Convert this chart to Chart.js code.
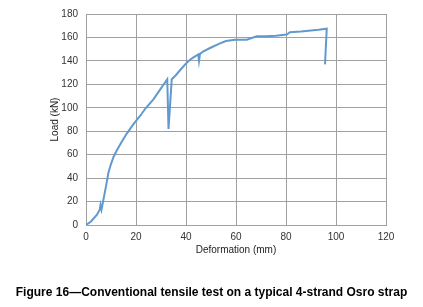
<!DOCTYPE html>
<html>
<head>
<meta charset="utf-8">
<script src="https://cdn.jsdelivr.net/npm/chart.js@4"></script>
<style>
  html, body { margin: 0; padding: 0; background: #fff; }
  #wrap { width: 423px; height: 307px; position: relative; }
  #caption {
    position: absolute; left: 0; top: 285px; width: 423px;
    text-align: center; white-space: nowrap;
    font: bold 12px/14px "Liberation Sans", Arial, sans-serif; color: #000;
  }
</style>
</head>
<body>
<div id="wrap">
  <canvas id="chart-1"></canvas>
  <div id="caption"></div>
</div>
<script>
const deformation = [0, 2, 4.3, 5.5, 5.8, 6.2, 7, 8, 9, 10, 11, 12.3, 14, 16.3, 19, 21.6, 24, 26.9, 29.5, 32.5, 33, 34.3, 36, 37.6, 40.3, 41.6, 43, 44.9, 45.2, 45.6, 46.8, 49.6, 53.6, 56, 59.6, 64.3, 68.3, 72, 76, 80.3, 81.6, 86, 90, 93, 96.3, 95.6];
const load = [0, 3, 8.5, 13, 17, 13, 22, 33, 45, 52, 58, 63.5, 70, 78, 86, 93, 100, 107, 115, 124.3, 82, 124.3, 128, 132, 138.5, 141, 143, 145.5, 140, 146, 148, 151, 155, 157, 158, 158, 161, 161, 161.5, 162.5, 164.4, 165, 166, 166.5, 167.5, 137];
const xTicks = [0, 20, 40, 60, 80, 100, 120];
const yTicks = [0, 20, 40, 60, 80, 100, 120, 140, 160, 180];
const caption = "Figure 16\u2014Conventional tensile test on a typical 4-strand Osro strap";

document.getElementById("caption").textContent = caption;

const points = deformation.map((d, i) => ({ x: d, y: load[i] }));
const gridColor = "#a0a0a0";
const tickFont = { family: "Liberation Sans, Arial, sans-serif", size: 10 };

new Chart(document.getElementById("chart-1"), {
  type: "line",
  data: {
    datasets: [
      {
        label: "Load",
        data: points,
        borderColor: "#6199cf",
        borderWidth: 2,
        pointRadius: 0,
        tension: 0,
        fill: false,
      },
    ],
  },
  options: {
    responsive: true,
    maintainAspectRatio: false,
    animation: false,
    layout: {
      padding: { left: 44, right: 37, top: 12, bottom: 23.8 },
    },
    plugins: {
      legend: { display: false },
      tooltip: { enabled: false },
    },
    scales: {
      x: {
        type: "linear",
        min: 0,
        max: 120,
        afterBuildTicks: (s) => { s.ticks = xTicks.map((v) => ({ value: v })); },
        afterFit: (s) => { s.height = 58.2; },
        grid: { color: gridColor, drawTicks: false },
        border: { color: gridColor },
        ticks: { color: "#333", font: tickFont, padding: 6 },
        title: {
          display: true,
          text: "Deformation (mm)",
          color: "#222",
          font: tickFont,
          padding: { top: 4, bottom: 27 },
        },
      },
      y: {
        type: "linear",
        min: 0,
        max: 180,
        afterBuildTicks: (s) => { s.ticks = yTicks.map((v) => ({ value: v })); },
        afterFit: (s) => { s.width = 42; },
        grid: { color: gridColor, drawTicks: false },
        border: { color: gridColor },
        ticks: { color: "#333", font: tickFont, padding: 8 },
        title: {
          display: true,
          text: "Load (kN)",
          color: "#222",
          font: tickFont,
          padding: { top: 5, bottom: 4 },
        },
      },
    },
  },
});
</script>
</body>
</html>
